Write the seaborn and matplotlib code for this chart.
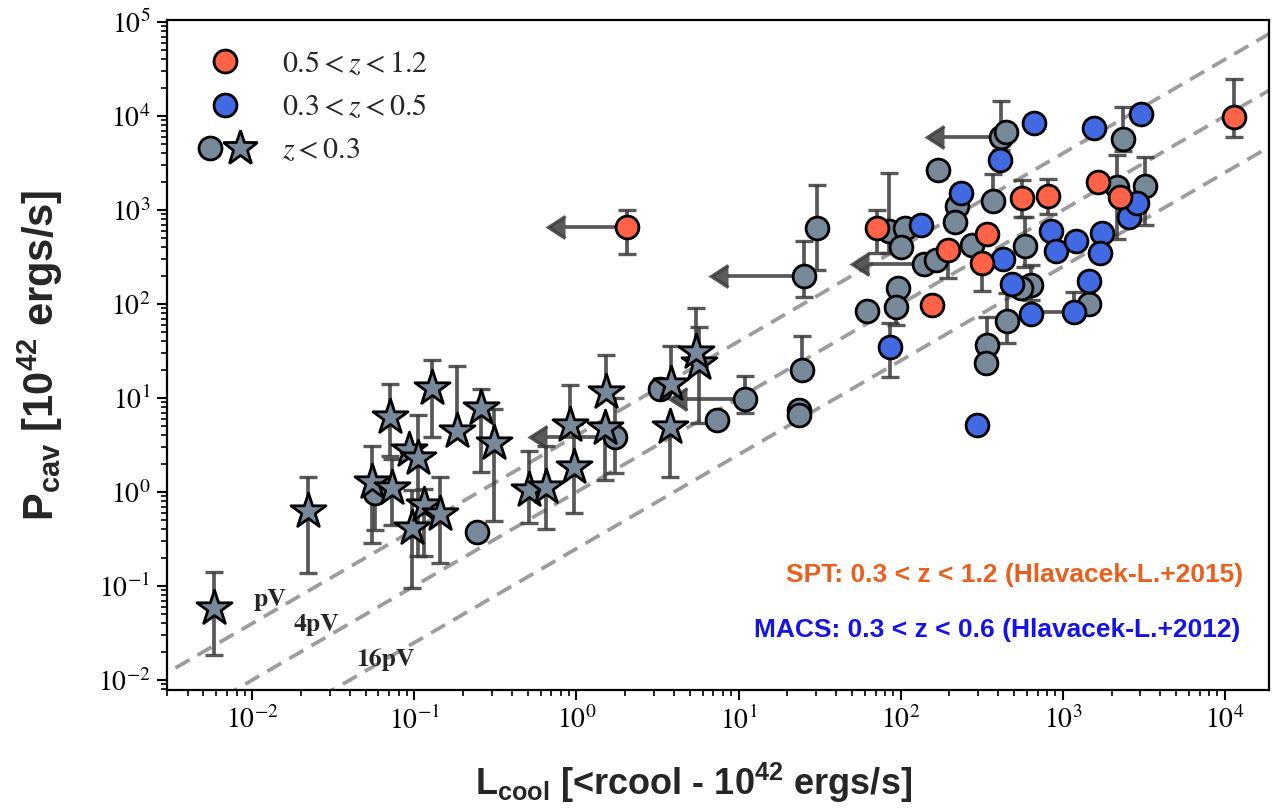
import numpy as np
import matplotlib
matplotlib.use("Agg")
import matplotlib.pyplot as plt
import seaborn as sns
from matplotlib.lines import Line2D
from matplotlib.legend_handler import HandlerTuple
from matplotlib.ticker import (FixedLocator, LogFormatterSciNotation,
                               NullFormatter)

nan = np.nan

# ---------------- data ----------------
x_ticks = [1e-2, 1e-1, 1e0, 1e1, 1e2, 1e3, 1e4]
y_ticks = [1e-2, 1e-1, 1e0, 1e1, 1e2, 1e3, 1e4, 1e5]

# 0.5 < z < 1.2 (SPT)
red_L  = [11300, 1640, 2260, 563, 811, 71, 343, 196, 318, 155, 2.04]
red_P  = [9700, 2000, 1390, 1335, 1410, 646, 556, 375, 275, 97.5, 659]
red_lo = [6000, nan, nan, 850, 900, 350, nan, 190, 138, nan, 340]
red_hi = [25000, nan, nan, 2090, 2140, 1000, nan, nan, nan, nan, 1000]

# 0.3 < z < 0.5 (MACS)
blue_L  = [665, 1560, 3055, 410, 234, 133, 430, 851, 908, 1203, 1754, 1697,
           2564, 2885, 488, 638, 1170, 1452, 86, 294]
blue_P  = [8490, 7400, 10500, 3400, 1500, 690, 301, 605, 369, 471, 573, 346,
           849, 1180, 163, 79, 83, 177, 34.6, 5.16]
blue_lo = [nan, nan, nan, nan, nan, nan, nan, nan, nan, nan, nan, nan,
           nan, nan, nan, nan, nan, nan, 16.7, nan]
blue_hi = [nan, nan, nan, nan, nan, nan, nan, nan, nan, nan, nan, nan,
           nan, nan, nan, nan, 135, nan, 62.8, nan]

# z < 0.3 clusters (circles)
grey_L  = [2365, 414, 445, 169, 372, 222, 216, 84.5, 107, 101, 139, 164, 274,
           585, 96, 93, 61.7, 634, 550, 451, 343, 335, 1452, 3200, 2150, 30.3,
           25.3, 24.5, 23.5, 23.5, 11, 7.4, 3.27, 1.74, 0.0574, 0.243]
grey_P  = [5650, 5940, 6840, 2670, 1257, 1104, 751, 605, 638, 407, 269, 294, 425,
           417, 147, 94, 85, 159, 148, 66.5, 36.6, 23.4, 100, 1780, 1740, 638,
           199, 19.9, 7.45, 6.6, 9.75, 5.9, 12.4, 3.87, 0.98, 0.378]
grey_lo = [4270, 4340, nan, nan, nan, nan, nan, 350, nan, nan, nan, nan, nan,
           250, nan, 60, nan, 110, nan, 38.5, nan, nan, nan, 690, 490, 230,
           120, nan, nan, nan, 7, nan, nan, 1.58, 0.39, nan]
grey_hi = [12560, 14550, nan, nan, 2415, nan, nan, 2480, nan, nan, nan, nan, nan,
           850, nan, nan, nan, 260, nan, 131, 72.8, nan, nan, 3690, 3850, 1860,
           468, 46, nan, nan, 17, nan, nan, 10, nan, nan]

# z < 0.3 groups/galaxies (stars)
star_L  = [0.00577, 0.0221, 0.0548, 0.0703, 0.0727, 0.092, 0.106, 0.128, 0.184,
           0.258, 0.309, 0.0966, 0.115, 0.143, 0.508, 0.653, 0.96, 0.91, 1.51,
           1.53, 3.8, 3.83, 5.7, 5.43]
star_P  = [0.058, 0.632, 1.29, 6.24, 1.1, 2.8, 2.28, 12.7, 4.49, 7.75, 3.35,
           0.41, 0.73, 0.583, 1.05, 1.12, 1.86, 5.16, 4.77, 11.7, 4.95, 14.1,
           23.8, 31.1]
star_lo = [0.0185, 0.136, 0.288, 2.4, 0.45, nan, 0.21, 3.87, nan, 1.64, 0.49,
           0.0946, 0.21, 0.177, 0.47, 0.4, 0.6, nan, 1.34, nan, 1.45, nan,
           5.4, nan]
star_hi = [0.142, 1.43, 3.08, 14, 2.25, nan, 6.6, 25.4, 22, 12.6, 7.7, 1.05,
           1.07, 1.43, 2.73, 3.1, 5.3, 13.8, nan, 28.6, nan, 36, 57, 91]

# upper limits on L_cool (arrow start, P, arrow tip)
lim_L   = [2.04, 25.3, 414, 139, 11, 1.74]
lim_P   = [659, 199, 5940, 269, 9.75, 3.87]
lim_tip = [0.855, 8.55, 184, 63.4, 4.84, 0.662]

# horizontal bar on one MACS cluster (start, P, left end)
hbar_L, hbar_P, hbar_end = [1170], [83], [640]

# P = k * L reference lines
ratio_k = [4, 1, 0.25]
ratio_labels = ["pV", "4pV", "16pV"]
ratio_label_L = [0.0129, 0.0248, 0.0662]
ratio_label_P = [0.071, 0.0385, 0.0163]

# ---------------- styling ----------------
sns.set_theme(style="ticks")
plt.rcParams.update({
    "font.family": ["STIXGeneral", "DejaVu Serif"],
    "mathtext.fontset": "stix",
    "mathtext.rm": "Liberation Sans",
    "mathtext.bf": "Liberation Sans:bold",
    "mathtext.it": "Liberation Sans:italic",
})

C_RED, C_BLUE, C_GREY = "tomato", "royalblue", "lightslategrey"
E_COL = "#3c3c3c"

fig = plt.figure(figsize=(12.76, 8.11), dpi=100)
ax = fig.add_axes([0.1309, 0.1492, 0.8636, 0.8261])
ax.set_xscale("log")
ax.set_yscale("log")
ax.set_xlim(0.00298, 18700)
ax.set_ylim(0.00783, 1.05e5)

# reference lines
line_L = np.array([1e-4, 1e6])
for k in ratio_k:
    ax.plot(line_L, k * line_L, color="#9c9c9c", lw=2.7, ls=(0, (4.3, 2.5)), zorder=1)
for lab, lx, ly in zip(ratio_labels, ratio_label_L, ratio_label_P):
    ax.text(lx, ly, lab, fontsize=18.5, fontweight="bold", family="STIXGeneral",
            ha="center", va="center", zorder=6)

ekw = dict(fmt="none", ecolor=E_COL, elinewidth=2.7, capsize=6.5, capthick=2.4,
           alpha=0.85, zorder=2)


def draw_err(L, P, lo, hi):
    L, P, lo, hi = map(lambda a: np.asarray(a, float), (L, P, lo, hi))
    m = ~(np.isnan(lo) & np.isnan(hi))
    lo2 = np.where(np.isnan(lo), P, lo)
    hi2 = np.where(np.isnan(hi), P, hi)
    ax.errorbar(L[m], P[m], yerr=[P[m] - lo2[m], hi2[m] - P[m]], **ekw)


for grp in [(red_L, red_P, red_lo, red_hi), (blue_L, blue_P, blue_lo, blue_hi),
            (grey_L, grey_P, grey_lo, grey_hi), (star_L, star_P, star_lo, star_hi)]:
    draw_err(*grp)

lL = np.asarray(lim_L)
arr = ax.errorbar(lL, lim_P, xerr=[lL - np.asarray(lim_tip), np.zeros_like(lL)],
                  xuplims=True, **ekw)
for cl in arr[1]:
    cl.set_markerfacecolor(E_COL)
    cl.set_markeredgecolor(E_COL)
    cl.set_markersize(16)
hL = np.asarray(hbar_L)
ax.errorbar(hL, hbar_P, xerr=[hL - np.asarray(hbar_end), np.zeros_like(hL)], **ekw)

circ = dict(marker="o", s=270, edgecolor="black", linewidth=2.0, legend=False, ax=ax)
sns.scatterplot(x=grey_L, y=grey_P, color=C_GREY, zorder=3, **circ)
sns.scatterplot(x=blue_L, y=blue_P, color=C_BLUE, zorder=4, **circ)
sns.scatterplot(x=red_L, y=red_P, color=C_RED, zorder=5, **circ)
sns.scatterplot(x=star_L, y=star_P, marker="*", s=700, color=C_GREY,
                edgecolor="black", linewidth=2.0, legend=False, ax=ax, zorder=4)

# ticks / spines (only decades inside the view, minor ticks in between)
x_minor = [m * t for t in [1e-3] + x_ticks for m in range(2, 10)]
y_minor = [m * t for t in [1e-3] + y_ticks[:-1] for m in range(2, 10)]
x_lo, x_hi = ax.get_xlim()
y_lo, y_hi = ax.get_ylim()
ax.xaxis.set_major_locator(FixedLocator(x_ticks))
ax.yaxis.set_major_locator(FixedLocator(y_ticks))
ax.xaxis.set_minor_locator(FixedLocator([v for v in x_minor if x_lo <= v <= x_hi]))
ax.yaxis.set_minor_locator(FixedLocator([v for v in y_minor if y_lo <= v <= y_hi]))
for a in (ax.xaxis, ax.yaxis):
    a.set_major_formatter(LogFormatterSciNotation())
    a.set_minor_formatter(NullFormatter())
ax.tick_params(which="both", direction="out", top=False, right=False,
               bottom=True, left=True, colors="black")
ax.tick_params(which="major", length=7, width=1.5, labelsize=20, pad=5)
ax.tick_params(which="minor", length=4, width=1.2)
for sp in ax.spines.values():
    sp.set_color("black")
    sp.set_linewidth(1.6)

ax.set_xlabel(r"L$_{\mathbf{cool}}$ [<rcool - 10$^{\mathbf{42}}$ ergs/s]",
              fontsize=26, fontweight="bold", family="Liberation Sans",
              math_fontfamily="custom")
ax.set_ylabel(r"P$_{\mathbf{cav}}$ [10$^{\mathbf{42}}$ ergs/s]",
              fontsize=30, fontweight="bold", family="Liberation Sans",
              math_fontfamily="custom")
ax.xaxis.set_label_coords(0.478, -0.105)
ax.yaxis.set_label_coords(-0.093, 0.5)

ax.text(0.9764, 0.1716, "SPT: 0.3 < z < 1.2 (Hlavacek-L.+2015)", transform=ax.transAxes,
        ha="right", va="center", fontsize=19, fontweight="bold",
        family="Liberation Sans", color="#e8601c")
ax.text(0.9737, 0.0896, "MACS: 0.3 < z < 0.6 (Hlavacek-L.+2012)", transform=ax.transAxes,
        ha="right", va="center", fontsize=19, fontweight="bold",
        family="Liberation Sans", color="#1414e6")

# legend
h_red = Line2D([], [], ls="", marker="o", ms=16.5, mfc=C_RED, mec="black", mew=2.0)
h_blue = Line2D([], [], ls="", marker="o", ms=16.5, mfc=C_BLUE, mec="black", mew=2.0)
h_gc = Line2D([], [], ls="", marker="o", ms=16.5, mfc=C_GREY, mec="black", mew=2.0)
h_gs = Line2D([], [], ls="", marker="*", ms=26, mfc=C_GREY, mec="black", mew=2.0)
ax.legend([h_red, h_blue, (h_gc, h_gs)],
          [r"$0.5 < z < 1.2$", r"$0.3 < z < 0.5$", r"$z < 0.3$"],
          handler_map={tuple: HandlerTuple(ndivide=None, pad=0)},
          loc="upper left", bbox_to_anchor=(0.0254, 0.954), frameon=False,
          fontsize=21.5, borderpad=0, borderaxespad=0, labelspacing=0.52,
          handlelength=2.0, handletextpad=0.9)

fig.savefig("out.png", dpi=100)
